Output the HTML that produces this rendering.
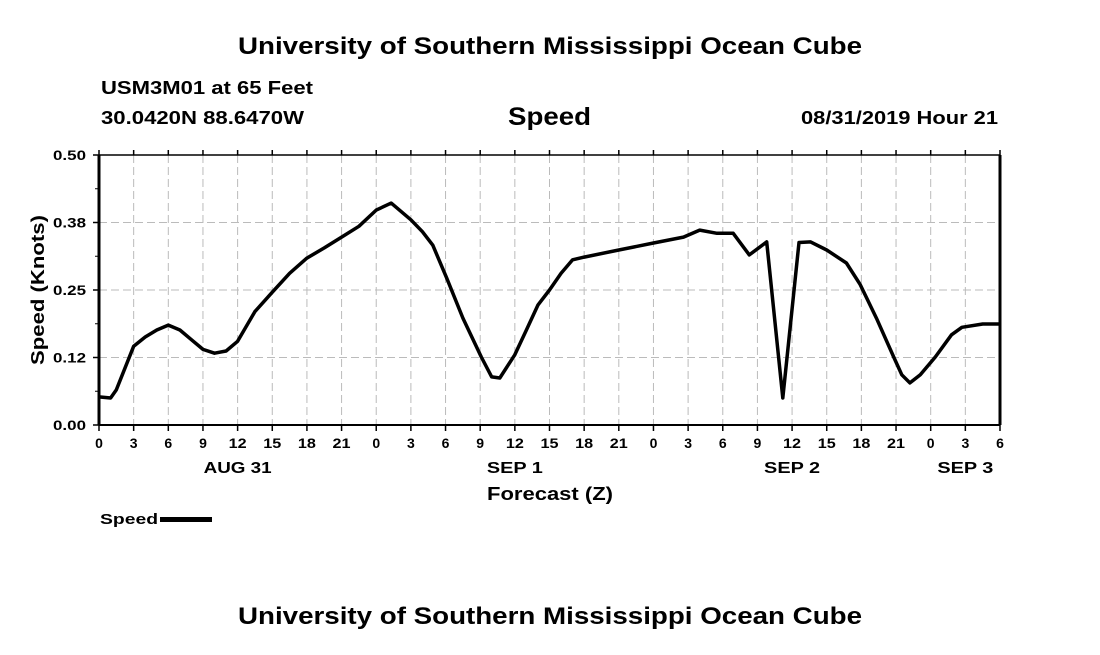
<!DOCTYPE html>
<html><head><meta charset="utf-8"><style>
body{margin:0;background:#fff;width:1100px;height:650px;overflow:hidden;font-family:"Liberation Sans",Arial,sans-serif}
svg text{font-family:"Liberation Sans",Arial,sans-serif;font-weight:bold;fill:#000}
</style></head><body>
<svg id="chart" width="1100" height="650" xmlns="http://www.w3.org/2000/svg">
<text x="238" y="54" font-size="24" textLength="624" lengthAdjust="spacingAndGlyphs">University of Southern Mississippi Ocean Cube</text>
<text x="101" y="94" font-size="18" textLength="212" lengthAdjust="spacingAndGlyphs">USM3M01 at 65 Feet</text>
<text x="101" y="124" font-size="18" textLength="203" lengthAdjust="spacingAndGlyphs">30.0420N 88.6470W</text>
<text x="508" y="125" font-size="25" textLength="83" lengthAdjust="spacingAndGlyphs">Speed</text>
<text x="801" y="124" font-size="18" textLength="197" lengthAdjust="spacingAndGlyphs">08/31/2019 Hour 21</text>
<g id="grid"></g>
<g id="axes"></g>
<path id="line" fill="none" stroke="#000" stroke-width="3.5" stroke-linejoin="round"/>
<text transform="translate(44,365) rotate(-90)" font-size="18" textLength="150" lengthAdjust="spacingAndGlyphs">Speed (Knots)</text>
<text x="487" y="500" font-size="18" textLength="126" lengthAdjust="spacingAndGlyphs">Forecast (Z)</text>
<g>
<text x="100" y="524" font-size="15" textLength="58" lengthAdjust="spacingAndGlyphs">Speed</text>
<rect x="160" y="517" width="52" height="5" fill="#000"/>
</g>
<text x="238" y="624" font-size="24" textLength="624" lengthAdjust="spacingAndGlyphs">University of Southern Mississippi Ocean Cube</text>
</svg>
<script>
const hours=[0,1,1.5,3,4,5,6,7,8,9,10,11,12,13.5,15,16.5,18,19.5,21,22.5,24,25.3,27,28,28.9,30.1,31.5,33.1,34,34.7,36,37,38,39,40,41,42,45,48,50.6,52,53.5,54.9,56.3,57.8,59.2,60.6,61.6,63,64.7,65.9,67.3,68.8,69.5,70.2,71.1,72.4,73.8,74.7,76.5,78];
const speed=[0.052,0.05,0.065,0.146,0.163,0.176,0.185,0.176,0.158,0.14,0.133,0.137,0.155,0.21,0.246,0.281,0.309,0.328,0.348,0.368,0.398,0.411,0.38,0.358,0.333,0.272,0.198,0.126,0.089,0.087,0.13,0.176,0.222,0.25,0.281,0.306,0.311,0.324,0.337,0.348,0.361,0.355,0.355,0.315,0.339,0.05,0.338,0.339,0.324,0.3,0.26,0.198,0.126,0.093,0.078,0.093,0.126,0.167,0.181,0.187,0.187];
const yTicks=[0,0.125,0.25,0.375,0.5];
const yTickLabels=["0.00","0.12","0.25","0.38","0.50"];
const xTickLabels=["0","3","6","9","12","15","18","21","0","3","6","9","12","15","18","21","0","3","6","9","12","15","18","21","0","3","6"];
const dayLabels=["AUG 31","SEP 1","SEP 2","SEP 3"];
const dayHours=[12,36,60,75];
const X0=99,X1=1000,Y0=425,Y1=155,HMAX=78,VMAX=0.5;
const xs=h=>X0+(X1-X0)*h/HMAX, ys=v=>Y0-(Y0-Y1)*v/VMAX;
const NS="http://www.w3.org/2000/svg";
function mk(tag,attrs,parent,txt){const e=document.createElementNS(NS,tag);for(const k in attrs)e.setAttribute(k,attrs[k]);if(txt!=null)e.textContent=txt;parent.appendChild(e);return e;}
const grid=document.getElementById('grid'),axes=document.getElementById('axes');
xTickLabels.forEach((t,i)=>{const x=xs(i*3);
 if(i>0&&i<xTickLabels.length-1){const g=mk('line',{x1:x,x2:x,y1:Y1,y2:Y0,stroke:'#bbb','stroke-dasharray':'8,4'},grid);
 
 }
 mk('line',{x1:x,x2:x,y1:Y0,y2:Y0+6,stroke:'#000','stroke-width':1.5},axes);
 mk('line',{x1:x,x2:x,y1:Y1,y2:Y1-5,stroke:'#000','stroke-width':1.5},axes);
 const l=mk('text',{x:x,y:Y0+23,'font-size':14,'text-anchor':'middle'},axes,t);
 if(t.length>1){l.setAttribute('textLength','18');l.setAttribute('lengthAdjust','spacingAndGlyphs');}
 
 
});
dayLabels.forEach((d,i)=>{const l=mk('text',{x:xs(dayHours[i]),y:Y0+48,'font-size':16,'text-anchor':'middle',textLength:(d.length===6?68:56),lengthAdjust:'spacingAndGlyphs'},axes,d);
 
 });
yTicks.forEach((v,i)=>{const y=ys(v);
 if(i>0&&i<yTicks.length-1){const g=mk('line',{x1:X0,x2:X1,y1:y,y2:y,stroke:'#bbb','stroke-dasharray':'8,4'},grid);
 
 }
 mk('line',{x1:X0-6,x2:X0,y1:y,y2:y,stroke:'#000','stroke-width':1.5},axes);
 const l=mk('text',{x:86,y:y+5,'font-size':14,'text-anchor':'end',textLength:33,lengthAdjust:'spacingAndGlyphs'},axes,yTickLabels[i]);
 
 
 if(i<yTicks.length-1){const ym=ys(v+0.0625);mk('line',{x1:X0-4,x2:X0,y1:ym,y2:ym,stroke:'#000'},axes);}
});
mk('line',{x1:X0,x2:X0,y1:Y1,y2:Y0,stroke:'#000','stroke-width':3},axes);
mk('line',{x1:X1,x2:X1,y1:Y1,y2:Y0,stroke:'#000','stroke-width':3},axes);
mk('line',{x1:X0,x2:X1,y1:Y0,y2:Y0,stroke:'#000','stroke-width':2},axes);
mk('line',{x1:X0,x2:X1,y1:Y1,y2:Y1,stroke:'#000','stroke-width':1.5},axes);
document.getElementById('line').setAttribute('d',hours.map((h,i)=>(i?'L':'M')+xs(h).toFixed(1)+','+ys(speed[i]).toFixed(1)).join(''));
</script>
</body></html>
